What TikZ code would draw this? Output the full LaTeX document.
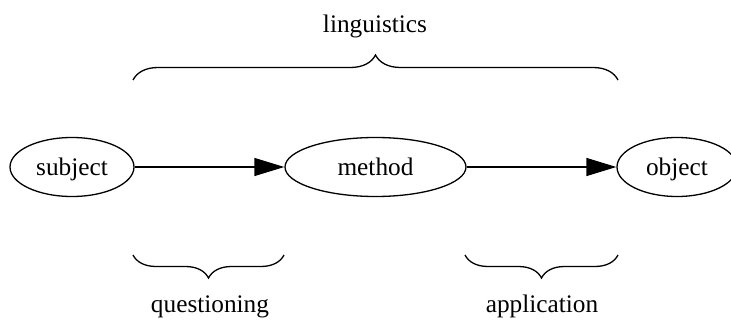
\documentclass[tikz,border=0pt]{standalone}
\usepackage{fontspec}
\setmainfont{Liberation Serif}
\usetikzlibrary{arrows.meta,decorations.pathreplacing,shapes.geometric}
\begin{document}
\begin{tikzpicture}[x=1pt,y=1pt,
  every node/.style={font=\fontsize{25.3}{30}\selectfont},
  oval/.style={draw,ellipse,line width=1.3pt,inner sep=0pt,minimum height=59pt,text height=20pt,text depth=3pt},
  arr/.style={line width=1.3pt,-{Triangle[length=30pt,width=18pt]}},
  brc/.style={line width=1.3pt,decorate,decoration={brace,amplitude=#1}},
  lbl/.style={anchor=base,inner sep=0pt}]
\useasboundingbox (0,0) rectangle (731,322);
\node[oval,minimum width=124pt] (subject) at (72,155) {subject};
\node[oval,minimum width=181pt] (method) at (375.5,155) {method};
\node[oval,minimum width=120pt] (object) at (677,155) {object};
\draw[arr] (subject) -- (method);
\draw[arr] (method) -- (object);
\coordinate (tl) at (133,242);
\coordinate (tr) at (618,242);
\draw[brc=25pt] (tl) -- (tr);
\node[lbl] (ling) at (375,289) {linguistics};
\coordinate (ql) at (133,67);
\coordinate (qr) at (284,67);
\draw[brc=23pt] (qr) -- (ql);
\node[lbl] (quest) at (210,10) {questioning};
\coordinate (al) at (465,67);
\coordinate (ar) at (618,67);
\draw[brc=23pt] (ar) -- (al);
\node[lbl] (appl) at (542,10) {application};
\end{tikzpicture}
\end{document}
